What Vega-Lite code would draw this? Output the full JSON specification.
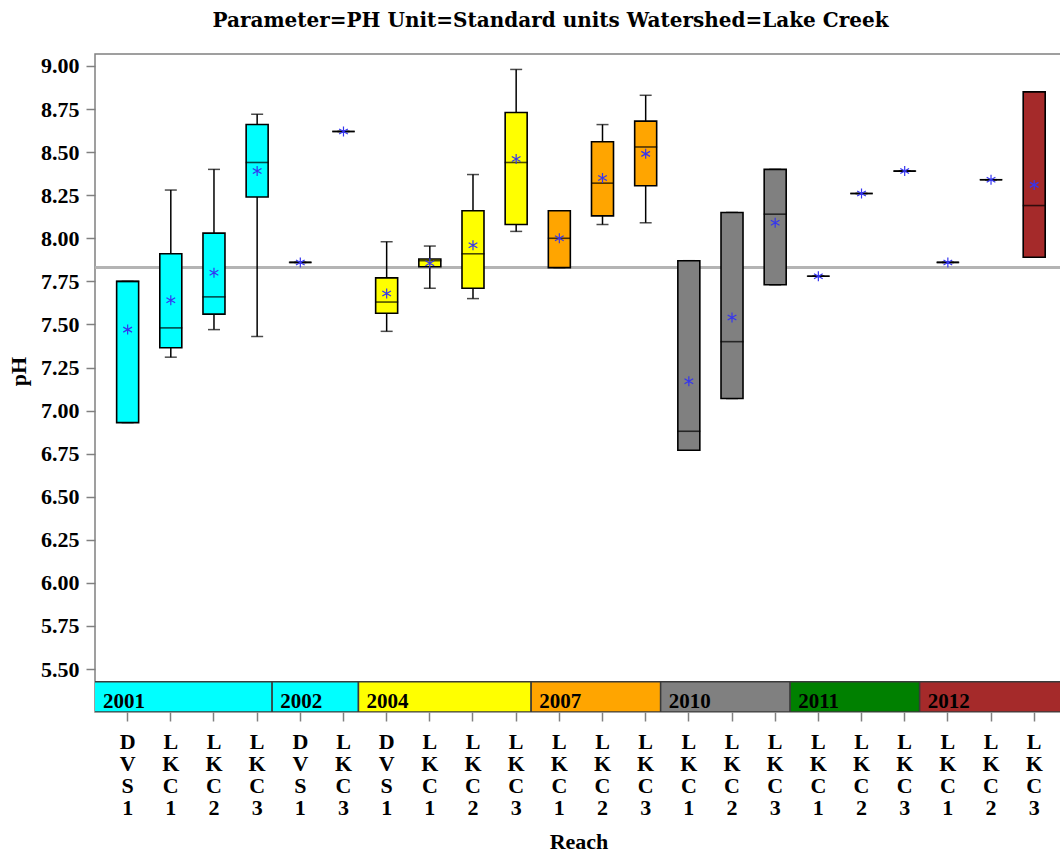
{
  "$schema": "https://vega.github.io/schema/vega-lite/v6.json",
  "width": 967,
  "height": 658,
  "autosize": {"type": "none"},
  "padding": {"left": 95, "top": 54, "right": 0, "bottom": 144},
  "background": "white",
  "title": {
    "text": "Parameter=PH  Unit=Standard units  Watershed=Lake Creek",
    "font": "DejaVu Serif", "fontSize": 20, "fontWeight": "bold", "color": "black",
    "offset": 7, "baseline": "alphabetic", "dx": -28
  },
  "datasets": {
    "boxes": [
      {"key": "2001 DVS1", "year": "2001", "reach": "DVS1", "min": 6.93, "q1": 6.93, "median": 7.75, "q3": 7.75, "max": 7.75, "mean": 7.47},
      {"key": "2001 LKC1", "year": "2001", "reach": "LKC1", "min": 7.31, "q1": 7.365, "median": 7.48, "q3": 7.91, "max": 8.28, "mean": 7.64},
      {"key": "2001 LKC2", "year": "2001", "reach": "LKC2", "min": 7.47, "q1": 7.56, "median": 7.66, "q3": 8.03, "max": 8.40, "mean": 7.80},
      {"key": "2001 LKC3", "year": "2001", "reach": "LKC3", "min": 7.43, "q1": 8.24, "median": 8.44, "q3": 8.66, "max": 8.72, "mean": 8.39},
      {"key": "2002 DVS1", "year": "2002", "reach": "DVS1", "min": 7.86, "q1": 7.86, "median": 7.86, "q3": 7.86, "max": 7.86, "mean": 7.86},
      {"key": "2002 LKC3", "year": "2002", "reach": "LKC3", "min": 8.62, "q1": 8.62, "median": 8.62, "q3": 8.62, "max": 8.62, "mean": 8.62},
      {"key": "2004 DVS1", "year": "2004", "reach": "DVS1", "min": 7.46, "q1": 7.565, "median": 7.63, "q3": 7.77, "max": 7.98, "mean": 7.68},
      {"key": "2004 LKC1", "year": "2004", "reach": "LKC1", "min": 7.71, "q1": 7.835, "median": 7.87, "q3": 7.88, "max": 7.955, "mean": 7.855},
      {"key": "2004 LKC2", "year": "2004", "reach": "LKC2", "min": 7.65, "q1": 7.71, "median": 7.91, "q3": 8.16, "max": 8.37, "mean": 7.96},
      {"key": "2004 LKC3", "year": "2004", "reach": "LKC3", "min": 8.04, "q1": 8.08, "median": 8.44, "q3": 8.73, "max": 8.98, "mean": 8.46},
      {"key": "2007 LKC1", "year": "2007", "reach": "LKC1", "min": 7.83, "q1": 7.83, "median": 8.0, "q3": 8.16, "max": 8.16, "mean": 8.0},
      {"key": "2007 LKC2", "year": "2007", "reach": "LKC2", "min": 8.08, "q1": 8.13, "median": 8.32, "q3": 8.56, "max": 8.66, "mean": 8.35},
      {"key": "2007 LKC3", "year": "2007", "reach": "LKC3", "min": 8.09, "q1": 8.305, "median": 8.53, "q3": 8.68, "max": 8.83, "mean": 8.49},
      {"key": "2010 LKC1", "year": "2010", "reach": "LKC1", "min": 6.77, "q1": 6.77, "median": 6.88, "q3": 7.87, "max": 7.87, "mean": 7.17},
      {"key": "2010 LKC2", "year": "2010", "reach": "LKC2", "min": 7.07, "q1": 7.07, "median": 7.40, "q3": 8.15, "max": 8.15, "mean": 7.54},
      {"key": "2010 LKC3", "year": "2010", "reach": "LKC3", "min": 7.73, "q1": 7.73, "median": 8.14, "q3": 8.40, "max": 8.40, "mean": 8.09},
      {"key": "2011 LKC1", "year": "2011", "reach": "LKC1", "min": 7.78, "q1": 7.78, "median": 7.78, "q3": 7.78, "max": 7.78, "mean": 7.78},
      {"key": "2011 LKC2", "year": "2011", "reach": "LKC2", "min": 8.26, "q1": 8.26, "median": 8.26, "q3": 8.26, "max": 8.26, "mean": 8.26},
      {"key": "2011 LKC3", "year": "2011", "reach": "LKC3", "min": 8.39, "q1": 8.39, "median": 8.39, "q3": 8.39, "max": 8.39, "mean": 8.39},
      {"key": "2012 LKC1", "year": "2012", "reach": "LKC1", "min": 7.86, "q1": 7.86, "median": 7.86, "q3": 7.86, "max": 7.86, "mean": 7.86},
      {"key": "2012 LKC2", "year": "2012", "reach": "LKC2", "min": 8.34, "q1": 8.34, "median": 8.34, "q3": 8.34, "max": 8.34, "mean": 8.34},
      {"key": "2012 LKC3", "year": "2012", "reach": "LKC3", "min": 7.89, "q1": 7.89, "median": 8.19, "q3": 8.85, "max": 8.85, "mean": 8.31}
    ],
    "years": [
      {"year": "2001", "first": "2001 DVS1", "last": "2001 LKC3"},
      {"year": "2002", "first": "2002 DVS1", "last": "2002 LKC3"},
      {"year": "2004", "first": "2004 DVS1", "last": "2004 LKC3"},
      {"year": "2007", "first": "2007 LKC1", "last": "2007 LKC3"},
      {"year": "2010", "first": "2010 LKC1", "last": "2010 LKC3"},
      {"year": "2011", "first": "2011 LKC1", "last": "2011 LKC3"},
      {"year": "2012", "first": "2012 LKC1", "last": "2012 LKC3"}
    ]
  },
  "layer": [
    {
      "data": {"name": "boxes"},
      "mark": {"type": "rule", "color": "#b4b4b4", "strokeWidth": 1.5},
      "encoding": {
        "y": {"datum": 7.83, "type": "quantitative", "title": "pH",
          "scale": {"domain": [5.2507, 9.0696], "nice": false, "zero": false},
          "axis": {"values": [5.5, 5.75, 6, 6.25, 6.5, 6.75, 7, 7.25, 7.5, 7.75, 8, 8.25, 8.5, 8.75, 9], "format": ".2f",
                   "labelFont": "Liberation Serif", "labelFontSize": 22, "labelFontWeight": "bold", "labelColor": "black", "labelPadding": 7,
                   "tickSize": 9, "tickColor": "#808080", "tickWidth": 1.5, "domain": false, "grid": false,
                   "titleFont": "Liberation Serif", "titleFontSize": 22, "titleFontWeight": "bold", "titleColor": "black", "titlePadding": 10, "titleY": 317}}
      }
    },
    {
      "data": {"name": "years"},
      "transform": [{"filter": "datum.year == '2001'"}],
      "mark": {"type": "rect", "stroke": "#3a3a3a", "strokeWidth": 1.5, "clip": true},
      "encoding": {
        "x": {"field": "first", "type": "nominal", "bandPosition": -1, "title": "Reach",
          "scale": {"domain": ["2001 DVS1", "2001 LKC1", "2001 LKC2", "2001 LKC3", "2002 DVS1", "2002 LKC3", "2004 DVS1", "2004 LKC1", "2004 LKC2", "2004 LKC3", "2007 LKC1", "2007 LKC2", "2007 LKC3", "2010 LKC1", "2010 LKC2", "2010 LKC3", "2011 LKC1", "2011 LKC2", "2011 LKC3", "2012 LKC1", "2012 LKC2", "2012 LKC3"],
                    "paddingInner": 0, "paddingOuter": 0.2, "align": 0.64},
          "axis": {"labelExpr": "split(slice(datum.value, 5), '')", "labelAngle": 0, "labelFont": "Liberation Serif", "labelFontSize": 22, "labelFontWeight": "bold", "labelLineHeight": 22, "labelBaseline": "top", "labelPadding": 10, "labelColor": "black", "labelOverlap": false, "labelBound": false,
                   "tickSize": 9, "tickColor": "#808080", "tickWidth": 1.5, "domain": false, "grid": false,
                   "titleFont": "Liberation Serif", "titleFontSize": 22, "titleFontWeight": "bold", "titleColor": "black", "titlePadding": 13}},
        "x2": {"field": "last", "bandPosition": 0.847},
        "y": {"datum": 5.2507, "type": "quantitative", "title": "pH"},
        "y2": {"datum": 5.4266},
        "color": {"field": "year", "type": "nominal", "legend": null,
          "scale": {"domain": ["2001", "2002", "2004", "2007", "2010", "2011", "2012"],
                    "range": ["#00FFFF", "#00FFFF", "#FFFF00", "#FFA500", "#808080", "#008000", "#A52A2A"]}}
      }
    },
    {
      "data": {"name": "years"},
      "transform": [{"filter": "datum.year != '2001' && datum.year != '2012'"}],
      "mark": {"type": "rect", "stroke": "#3a3a3a", "strokeWidth": 1.5, "clip": true},
      "encoding": {
        "x": {"field": "first", "type": "nominal", "bandPosition": -0.153, "title": "Reach"},
        "x2": {"field": "last", "bandPosition": 0.847},
        "y": {"datum": 5.2507, "type": "quantitative", "title": "pH"},
        "y2": {"datum": 5.4266},
        "color": {"field": "year", "type": "nominal", "legend": null}
      }
    },
    {
      "data": {"name": "years"},
      "transform": [{"filter": "datum.year == '2012'"}],
      "mark": {"type": "rect", "stroke": "#3a3a3a", "strokeWidth": 1.5, "clip": true},
      "encoding": {
        "x": {"field": "first", "type": "nominal", "bandPosition": -0.153, "title": "Reach"},
        "x2": {"field": "last", "bandPosition": 1.6},
        "y": {"datum": 5.2507, "type": "quantitative", "title": "pH"},
        "y2": {"datum": 5.4266},
        "color": {"field": "year", "type": "nominal", "legend": null}
      }
    },
    {
      "data": {"name": "years"},
      "transform": [{"filter": "datum.year != '2001'"}],
      "mark": {"type": "text", "align": "left", "baseline": "alphabetic", "dx": 8, "dy": -4, "fontSize": 21, "fontWeight": "bold", "font": "Liberation Serif", "color": "black"},
      "encoding": {
        "x": {"field": "first", "type": "nominal", "bandPosition": -0.153, "title": "Reach"},
        "y": {"datum": 5.2507, "type": "quantitative", "title": "pH"},
        "text": {"field": "year"}
      }
    },
    {
      "data": {"name": "years"},
      "transform": [{"filter": "datum.year == '2001'"}],
      "mark": {"type": "text", "align": "left", "baseline": "alphabetic", "dx": 8, "dy": -4, "fontSize": 21, "fontWeight": "bold", "font": "Liberation Serif", "color": "black"},
      "encoding": {
        "x": {"field": "first", "type": "nominal", "bandPosition": -0.257, "title": "Reach"},
        "y": {"datum": 5.2507, "type": "quantitative", "title": "pH"},
        "text": {"field": "year"}
      }
    },
    {
      "data": {"name": "boxes"},
      "mark": {"type": "rule", "color": "black", "strokeWidth": 1.5},
      "encoding": {
        "x": {"field": "key", "type": "nominal", "title": "Reach"},
        "y": {"field": "max", "type": "quantitative", "title": "pH"},
        "y2": {"field": "q3"}
      }
    },
    {
      "data": {"name": "boxes"},
      "mark": {"type": "rule", "color": "black", "strokeWidth": 1.5},
      "encoding": {
        "x": {"field": "key", "type": "nominal", "title": "Reach"},
        "y": {"field": "q1", "type": "quantitative", "title": "pH"},
        "y2": {"field": "min"}
      }
    },
    {
      "data": {"name": "boxes"},
      "mark": {"type": "tick", "color": "black", "thickness": 1.5},
      "encoding": {
        "x": {"field": "key", "type": "nominal", "title": "Reach"},
        "y": {"field": "max", "type": "quantitative", "title": "pH"},
        "size": {"value": 12}
      }
    },
    {
      "data": {"name": "boxes"},
      "mark": {"type": "tick", "color": "black", "thickness": 1.5},
      "encoding": {
        "x": {"field": "key", "type": "nominal", "title": "Reach"},
        "y": {"field": "min", "type": "quantitative", "title": "pH"},
        "size": {"value": 12}
      }
    },
    {
      "data": {"name": "boxes"},
      "mark": {"type": "bar", "width": 22, "stroke": "black", "strokeWidth": 1.6},
      "encoding": {
        "x": {"field": "key", "type": "nominal", "title": "Reach"},
        "y": {"field": "q1", "type": "quantitative", "title": "pH"},
        "y2": {"field": "q3"},
        "color": {"field": "year", "type": "nominal", "legend": null}
      }
    },
    {
      "data": {"name": "boxes"},
      "mark": {"type": "tick", "color": "black", "thickness": 1.6},
      "encoding": {
        "x": {"field": "key", "type": "nominal", "title": "Reach"},
        "y": {"field": "median", "type": "quantitative", "title": "pH"},
        "size": {"value": 23}
      }
    },
    {
      "data": {"name": "boxes"},
      "mark": {"type": "point", "shape": "M0,-1L0,1M-0.87,-0.5L0.87,0.5M-0.87,0.5L0.87,-0.5", "filled": false, "strokeWidth": 1.2, "color": "#3535f0", "opacity": 1},
      "encoding": {
        "x": {"field": "key", "type": "nominal", "title": "Reach"},
        "y": {"field": "mean", "type": "quantitative", "title": "pH"},
        "size": {"value": 100}
      }
    }
  ],
  "config": {
    "font": "Liberation Serif",
    "view": {"stroke": "#808080", "strokeWidth": 1.5}
  }
}
